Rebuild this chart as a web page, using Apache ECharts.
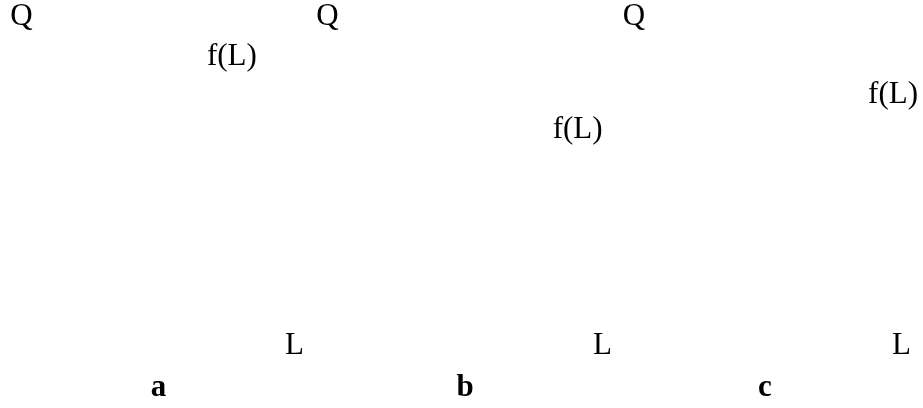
<!DOCTYPE html>
<html>
<head>
<meta charset="utf-8">
<script src="https://cdn.jsdelivr.net/npm/echarts@6/dist/echarts.min.js"></script>
<style>
  html, body { margin: 0; padding: 0; background: #fff; }
  #chart { width: 923px; height: 408px; }
</style>
</head>
<body>
<div id="chart"></div>
<script>
// panel letters and axis names
const panelNames = ['a', 'b', 'c'];
const yAxisName = 'Q';
const xAxisName = 'L';
const curveLabel = 'f(L)';
// where the f(L) label sits in each panel (axis units 0..10)
const labelX = [8.14, 9.6, 10.24];
const labelY = [9.44, 7.06, 8.2];

const chartDom = document.getElementById('chart');
const myChart = echarts.init(chartDom);

const font = 'Liberation Serif';
const fontSize = 31;

// grid boxes, one per panel
const grids = [
  { left: 21.5, width: 258.5, top: 40, height: 306 },
  { left: 327.5, width: 260.5, top: 40, height: 306 },
  { left: 634, width: 253, top: 40, height: 306 }
];
const letterX = [158.5, 465, 765];

const hidden = { show: false };
const axisText = { color: '#000', fontFamily: font, fontSize: fontSize };

const option = {
  animation: false,
  backgroundColor: '#fff',
  grid: grids,
  xAxis: grids.map((g, i) => ({
    type: 'value', gridIndex: i, min: 0, max: 10,
    name: xAxisName, nameLocation: 'end', nameGap: 5,
    nameTextStyle: axisText,
    axisLine: hidden, axisTick: hidden, axisLabel: hidden, splitLine: hidden
  })),
  yAxis: grids.map((g, i) => ({
    type: 'value', gridIndex: i, min: 0, max: 10,
    name: yAxisName, nameLocation: 'end', nameGap: 8,
    nameTextStyle: axisText,
    axisLine: hidden, axisTick: hidden, axisLabel: hidden, splitLine: hidden
  })),
  series: grids.map((g, i) => ({
    type: 'scatter', xAxisIndex: i, yAxisIndex: i,
    symbolSize: 0, clip: false, silent: true,
    itemStyle: { opacity: 1 },
    label: {
      show: true, position: 'inside', formatter: curveLabel,
      color: '#000', opacity: 1, fontFamily: font, fontSize: fontSize
    },
    data: [[labelX[i], labelY[i]]]
  })),
  graphic: panelNames.map((t, i) => ({
    type: 'text', x: letterX[i], y: 388,
    style: {
      text: t, fill: '#000', font: 'bold ' + fontSize + 'px "' + font + '"',
      textAlign: 'center', textVerticalAlign: 'middle'
    }
  }))
};

myChart.setOption(option);
</script>
</body>
</html>
